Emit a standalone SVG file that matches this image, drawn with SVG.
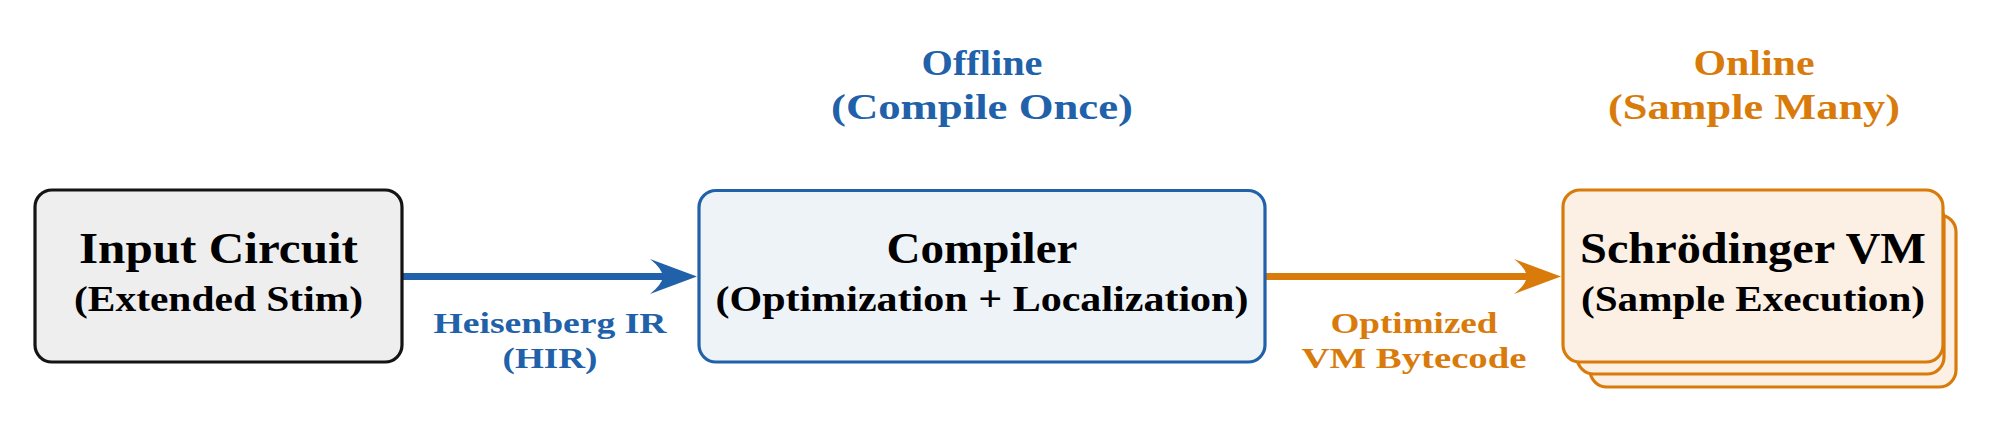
<svg xmlns="http://www.w3.org/2000/svg" width="1990" height="423" viewBox="0 0 1990 423">
<style>
.t{font-family:"Liberation Serif","Times New Roman",serif;font-weight:bold;text-anchor:middle}
.big{font-size:44px}
.sub{font-size:35px}
.lbl{font-size:29.5px}
.hdr{font-size:35px}
.blue{fill:#2161a9}
.orange{fill:#d97b0b}
.ink{fill:#000}
.box{stroke-width:3.2}
</style>
<defs>
<marker id="hb" markerUnits="userSpaceOnUse" viewBox="0 0 48 36" refX="14" refY="18" markerWidth="48" markerHeight="36" orient="auto" overflow="visible">
<path d="M47,18 Q28,11 0,0.5 Q12,10 13,18 Q12,26 0,35.5 Q28,25 47,18 Z" fill="#2161a9"/>
</marker>
<marker id="ho" markerUnits="userSpaceOnUse" viewBox="0 0 48 36" refX="14" refY="18" markerWidth="48" markerHeight="36" orient="auto" overflow="visible">
<path d="M47,18 Q28,11 0,0.5 Q12,10 13,18 Q12,26 0,35.5 Q28,25 47,18 Z" fill="#d97b0b"/>
</marker>
</defs>
<rect width="1990" height="423" fill="#fff"/>
<g id="connectors">
<path d="M402,276.5 L664,276.5" stroke="#2161a9" stroke-width="7" fill="none" marker-end="url(#hb)"/>
<path d="M1265,276.5 L1528,276.5" stroke="#d97b0b" stroke-width="7" fill="none" marker-end="url(#ho)"/>
<text class="t lbl blue" x="550" y="333" textLength="233" lengthAdjust="spacingAndGlyphs">Heisenberg IR</text>
<text class="t lbl blue" x="550" y="368" textLength="95" lengthAdjust="spacingAndGlyphs">(HIR)</text>
<text class="t lbl orange" x="1414" y="333" textLength="167" lengthAdjust="spacingAndGlyphs">Optimized</text>
<text class="t lbl orange" x="1414" y="368" textLength="225" lengthAdjust="spacingAndGlyphs">VM Bytecode</text>
</g>
<g id="input">
<rect class="box" x="35" y="190" width="367" height="172" rx="17" fill="#eeeeee" stroke="#141414"/>
<text class="t big ink" x="218.5" y="263" textLength="279" lengthAdjust="spacingAndGlyphs">Input Circuit</text>
<text class="t sub ink" x="218.5" y="311" textLength="289" lengthAdjust="spacingAndGlyphs">(Extended Stim)</text>
</g>
<g id="compiler">
<rect class="box" x="699" y="190.5" width="566" height="171.5" rx="17" fill="#eef3f8" stroke="#2161a9"/>
<text class="t big ink" x="982" y="263" textLength="191" lengthAdjust="spacingAndGlyphs">Compiler</text>
<text class="t sub ink" x="982" y="311" textLength="533" lengthAdjust="spacingAndGlyphs">(Optimization + Localization)</text>
</g>
<g id="vm">
<rect class="box" x="1590" y="215" width="366" height="172" rx="17" fill="#fcf0e4" stroke="#d97b0b"/>
<rect class="box" x="1577" y="202" width="367" height="172" rx="17" fill="#fcf0e4" stroke="#d97b0b"/>
<rect class="box" x="1563" y="190" width="380" height="172" rx="17" fill="#fcf0e4" stroke="#d97b0b"/>
<text class="t big ink" x="1753" y="263" textLength="346" lengthAdjust="spacingAndGlyphs">Schrödinger VM</text>
<text class="t sub ink" x="1753" y="311" textLength="344" lengthAdjust="spacingAndGlyphs">(Sample Execution)</text>
</g>
<g id="offline">
<text class="t hdr blue" x="982" y="75" textLength="121" lengthAdjust="spacingAndGlyphs">Offline</text>
<text class="t hdr blue" x="982" y="119" textLength="302" lengthAdjust="spacingAndGlyphs">(Compile Once)</text>
</g>
<g id="online">
<text class="t hdr orange" x="1754" y="75" textLength="121" lengthAdjust="spacingAndGlyphs">Online</text>
<text class="t hdr orange" x="1754" y="119" textLength="292" lengthAdjust="spacingAndGlyphs">(Sample Many)</text>
</g>
</svg>
